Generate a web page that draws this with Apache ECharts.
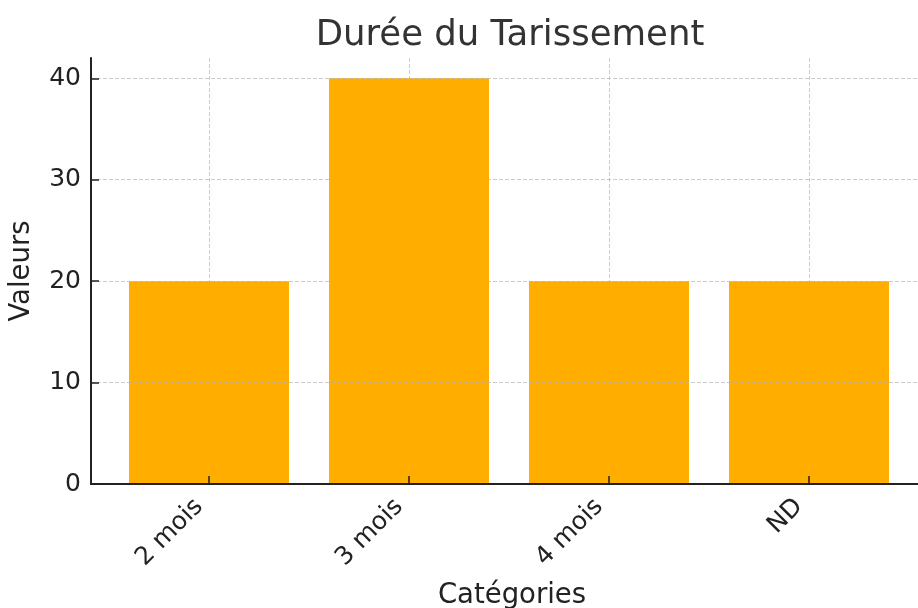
<!DOCTYPE html>
<html>
<head>
<meta charset="utf-8">
<script src="https://cdn.jsdelivr.net/npm/echarts@6/dist/echarts.min.js"></script>
<style>
  html, body { margin: 0; padding: 0; background: #fff; }
  #chart { width: 918px; height: 608px; }
</style>
</head>
<body>
<div id="chart"></div>
<script>
// donnees
var categories = ['2 mois', '3 mois', '4 mois', 'ND'];
var valeurs = [20, 40, 20, 20];
var yTicks = [0, 10, 20, 30, 40];

var catIndex = categories.map(function (c, i) { return i; });
var barData = valeurs.map(function (v, i) { return [i, v]; });

var font = 'DejaVu Sans';
// grille en pointilles, dessinee au-dessus des barres
var gridLine = { show: true, lineStyle: { color: 'rgba(176,176,176,0.65)', type: [4, 2], width: 1 } };

var myChart = echarts.init(document.getElementById('chart'));
var option = {
  animation: false,
  title: {
    text: 'Durée du Tarissement',
    left: 505,
    textAlign: 'center',
    top: 13,
    textStyle: { fontFamily: font, fontSize: 35.5, fontWeight: 'normal', color: '#333333' }
  },
  grid: { left: 91, right: -9, top: 58, bottom: 124, containLabel: false, outerBoundsMode: 'none' },
  xAxis: {
    type: 'value',
    min: -0.59,
    max: 3.59,
    z: 5,
    name: 'Catégories',
    nameLocation: 'middle',
    nameGap: 98,
    nameTextStyle: { fontFamily: font, fontSize: 27.5, color: '#222', padding: [0, 0, 0, 6] },
    axisLine: { show: true, onZero: false, lineStyle: { color: '#222', width: 2 } },
    axisTick: { show: true, inside: true, length: 8, customValues: catIndex, lineStyle: { color: '#222', width: 1.5 } },
    axisLabel: {
      customValues: catIndex,
      rotate: 45,
      margin: 9,
      padding: [0, 14, 0, 0],
      fontFamily: font, fontSize: 25, color: '#222',
      formatter: function (v) { return categories[Math.round(v)]; }
    },
    splitLine: gridLine
  },
  yAxis: {
    type: 'value',
    min: 0,
    max: 42,
    z: 5,
    name: 'Valeurs',
    nameLocation: 'middle',
    nameGap: 55,
    nameTextStyle: { fontFamily: font, fontSize: 27.5, color: '#222' },
    axisLine: { show: true, onZero: false, lineStyle: { color: '#222', width: 2 } },
    axisTick: { show: true, inside: true, length: 8, customValues: yTicks, lineStyle: { color: '#222', width: 1.5 } },
    axisLabel: { customValues: yTicks, margin: 10, fontFamily: font, fontSize: 25, color: '#222' },
    splitLine: gridLine
  },
  series: [{
    type: 'bar',
    data: barData,
    barWidth: 160,
    itemStyle: { color: '#ffae00' },
    z: 1
  }]
};
myChart.setOption(option);
</script>
</body>
</html>
